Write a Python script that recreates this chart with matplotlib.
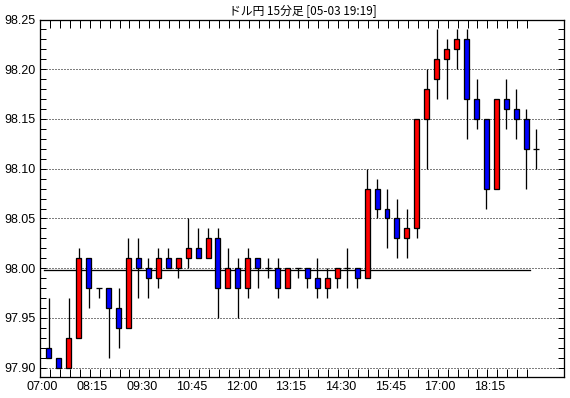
import matplotlib
matplotlib.use("Agg")
import matplotlib.pyplot as plt
import numpy as np

plt.rcParams['font.family'] = ['Noto Sans CJK JP', 'DejaVu Sans']

title = "ドル円 15分足 [05-03 19:19]"
time_labels = ["07:00", "08:15", "09:30", "10:45", "12:00",
               "13:15", "14:30", "15:45", "17:00", "18:15"]

opens = [97.92, 97.91, 97.90, 97.93, 98.01, 97.98, 97.98, 97.96, 97.94, 98.01,
         98.00, 97.99, 98.01, 98.00, 98.01, 98.02, 98.01, 98.03, 97.98, 98.00,
         97.98, 98.01, 98.00, 98.00, 97.98, 98.00, 98.00, 97.99, 97.98, 97.99,
         98.00, 98.00, 97.99, 98.08, 98.06, 98.05, 98.03, 98.04, 98.15, 98.19,
         98.21, 98.22, 98.23, 98.17, 98.15, 98.08, 98.17, 98.16, 98.15, 98.12]
highs = [97.97, 97.91, 97.97, 98.02, 98.01, 97.98, 97.98, 97.98, 98.03, 98.03,
         98.01, 98.02, 98.02, 98.01, 98.05, 98.04, 98.04, 98.04, 98.02, 98.01,
         98.02, 98.01, 98.01, 98.01, 98.00, 98.00, 98.00, 98.01, 98.00, 98.00,
         98.02, 98.00, 98.10, 98.09, 98.08, 98.07, 98.06, 98.15, 98.20, 98.24,
         98.23, 98.24, 98.24, 98.19, 98.15, 98.17, 98.19, 98.18, 98.16, 98.14]
lows = [97.91, 97.90, 97.90, 97.93, 97.96, 97.97, 97.91, 97.92, 97.94, 97.97,
        97.97, 97.98, 98.00, 97.99, 98.00, 98.01, 98.01, 97.95, 97.98, 97.95,
        97.97, 97.98, 97.99, 97.97, 97.98, 97.99, 97.98, 97.97, 97.97, 97.98,
        97.98, 97.98, 97.99, 98.05, 98.02, 98.01, 98.01, 98.03, 98.10, 98.17,
        98.17, 98.20, 98.13, 98.14, 98.06, 98.08, 98.14, 98.13, 98.08, 98.10]
closes = [97.91, 97.90, 97.93, 98.01, 97.98, 97.98, 97.96, 97.94, 98.01, 98.00,
          97.99, 98.01, 98.00, 98.01, 98.02, 98.01, 98.03, 97.98, 98.00, 97.98,
          98.01, 98.00, 98.00, 97.98, 98.00, 98.00, 97.99, 97.98, 97.99, 98.00,
          98.00, 97.99, 98.08, 98.06, 98.05, 98.03, 98.04, 98.15, 98.18, 98.21,
          98.22, 98.23, 98.17, 98.15, 98.08, 98.17, 98.16, 98.15, 98.12, 98.12]
base_price = 97.9985

opens = np.array(opens)
highs = np.array(highs)
lows = np.array(lows)
closes = np.array(closes)
x = np.arange(len(opens))

px = 0.72  # one pixel in points at dpi 100
fig = plt.figure(figsize=(5.70, 3.98), dpi=100)
ax = fig.add_axes([40 / 570, 1 - 377 / 398, 524 / 570, (377 - 19.5) / 398])

# dotted grid
for g in np.arange(97.90, 98.21, 0.05):
    ax.axhline(g, color='black', lw=px, ls=(0, (1, 2)), zorder=1)

# base line
ax.plot([-0.5, 48.4], [base_price, base_price], color='black', lw=1.3 * px, zorder=2)

# wicks
ax.vlines(x, lows, highs, color='black', lw=1.3 * px, zorder=3)

# bodies
up = closes > opens
down = closes < opens
flat = closes == opens
w = 0.5
ax.bar(x[up], (closes - opens)[up], bottom=opens[up], width=w,
       color='#ff0000', edgecolor='black', linewidth=1.3 * px, zorder=4)
ax.bar(x[down], (closes - opens)[down], bottom=opens[down], width=w,
       color='#0000ff', edgecolor='black', linewidth=1.3 * px, zorder=4)
ax.hlines(closes[flat], x[flat] - 0.3, x[flat] + 0.3, color='black',
          lw=1.3 * px, zorder=4)

ax.set_xlim(-0.9, 51.8)
ax.set_ylim(97.8907, 98.25)

num_font = ['Liberation Sans', 'DejaVu Sans']

# y ticks
yt = np.round(np.arange(97.90, 98.251, 0.01), 2)
ax.set_yticks(yt)
ax.set_yticklabels([f"{v:.2f}" if round(v * 100) % 5 == 0 else "" for v in yt],
                   family=num_font, fontsize=9)
ax.tick_params(axis='y', direction='in', length=4, width=px, left=True,
               right=True, pad=3)

# x ticks
ax.set_xticks(np.arange(50) - 0.9, minor=True)
ax.set_xticks(np.arange(len(time_labels)) * 5 - 0.65)
ax.set_xticklabels(time_labels, family=num_font, fontsize=9)
ax.tick_params(axis='x', which='minor', direction='in', length=6, width=px,
               top=True, bottom=True)
ax.tick_params(axis='x', which='major', length=0, pad=3)

for s in ax.spines.values():
    s.set_linewidth(1.3 * px)

fig.text(303 / 570, 1 - 11 / 398, title, ha='center', va='center', fontsize=8.5)

fig.savefig("out.png", dpi=100, facecolor='white')
